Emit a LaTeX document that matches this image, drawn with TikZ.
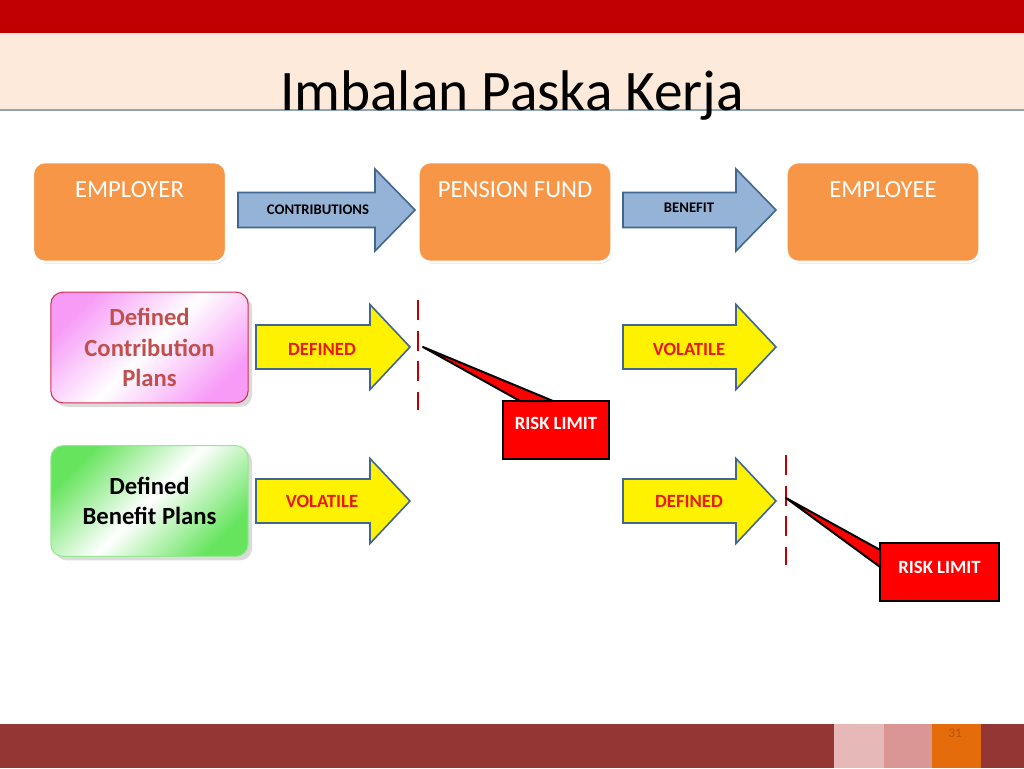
\documentclass[tikz,border=0pt]{standalone}
\usepackage{fontspec}
\setmainfont{Carlito}
\usepackage{xcolor}
\usepackage{tikz}
\usetikzlibrary{calc,positioning,shadows}

\definecolor{barred}{HTML}{C00000}
\definecolor{peach}{HTML}{FDEADA}
\definecolor{rulegrey}{HTML}{8EA5BE}
\definecolor{boxorange}{HTML}{F79646}
\definecolor{arrblue}{HTML}{95B3D7}
\definecolor{arredge}{HTML}{41668F}
\definecolor{dcpink}{HTML}{F79BF7}
\definecolor{dcedge}{HTML}{D0304D}
\definecolor{dctext}{HTML}{C0504D}
\definecolor{dbgreen}{HTML}{66E45E}
\definecolor{dbedge}{HTML}{9BE597}
\definecolor{levred}{HTML}{E41B17}
\definecolor{footred}{HTML}{943634}
\definecolor{footpinkA}{HTML}{E6B9B8}
\definecolor{footpinkB}{HTML}{D99694}
\definecolor{footorange}{HTML}{E46C0A}

\tikzset{
  partybox/.style={rectangle, rounded corners=9pt, fill=boxorange, draw=white,
    line width=2pt, minimum width=145pt, minimum height=75pt,
    drop shadow={shadow xshift=0.8pt, shadow yshift=-1.2pt, opacity=0.35}},
  partytxt/.style={text=white, font=\fontsize{18.5}{22}\selectfont},
  planbox/.style={rectangle, rounded corners=9pt, line width=0.8pt,
    minimum width=148pt, minimum height=83pt, align=center,
    font=\bfseries\fontsize{18.5}{23}\selectfont,
    drop shadow={shadow xshift=3pt, shadow yshift=-3pt, fill=black!14, opacity=1}},
  flowtxt/.style={font=\bfseries\fontsize{11}{13}\selectfont},
  levtxt/.style={text=levred, font=\bfseries\fontsize{14}{16}\selectfont},
  riskbox/.style={rectangle, fill=red, draw=black, line width=1.5pt, outer sep=0pt,
    minimum width=79.5pt, minimum height=43.5pt, text=white,
    font=\bfseries\fontsize{14}{16}\selectfont},
  limitline/.style={draw=barred, line width=2.2pt, dash pattern=on 15pt off 8pt}
}

\begin{document}
\begin{tikzpicture}[x=0.75pt,y=-0.75pt]
  \useasboundingbox (0,0) rectangle (1024,768);
  % header band
  \fill[barred] (0,0) rectangle (1024,33);
  \fill[peach] (0,33) rectangle (1024,110);
  \draw[rulegrey, line width=1.2pt] (0,110) -- (1024,110);
  \node[font=\fontsize{43}{50}\selectfont, anchor=base] (title) at (512,110) {Imbalan Paska Kerja};

  % parties
  \node[partybox] (employer) at (129.5,212) {};
  \node[partybox] (fund) at (515,212) {};
  \node[partybox] (employee) at (883,212) {};
  \foreach \n/\t in {employer/EMPLOYER,fund/PENSION FUND,employee/EMPLOYEE}
    \node[partytxt, anchor=base] (\n-t) at ($(\n.north)+(0,37)$) {\t};

  % block arrows
  \foreach \xa/\xb/\yc/\bw/\hw/\col in {238/415/210/17.5/41/arrblue,623/776/210/17.5/41/arrblue,
      256/410/347/22/42.5/yellow,623/776/347/22/42.5/yellow,
      256/410/501/22/42.5/yellow,623/776/501/22/42.5/yellow}
    \filldraw[fill=\col, draw=arredge, line width=1.2pt, line join=miter]
      (\xa,{\yc-\bw}) -- ({\xb-40},{\yc-\bw}) -- ({\xb-40},{\yc-\hw}) -- (\xb,\yc)
      -- ({\xb-40},{\yc+\hw}) -- ({\xb-40},{\yc+\bw}) -- (\xa,{\yc+\bw}) -- cycle;
  \node[flowtxt] (contrib) at (318,210) {CONTRIBUTIONS};
  \node[flowtxt] (benefit) at (689,208) {BENEFIT};
  \node[levtxt] (dc-in) at (322,349) {DEFINED};
  \node[levtxt] (dc-out) at (689,349) {VOLATILE};
  \node[levtxt] (db-in) at (322,501) {VOLATILE};
  \node[levtxt] (db-out) at (689,501) {DEFINED};

  % plans
  \node[planbox, draw=dcedge, text=dctext, left color=dcpink, right color=dcpink,
    middle color=white, shading angle=45] (dcplan) at (149.5,347.5) {Defined\\Contribution\\Plans};
  \node[planbox, draw=dbedge, left color=dbgreen, right color=dbgreen,
    middle color=white, shading angle=45] (dbplan) at (149.5,501) {Defined\\Benefit Plans};

  % risk limits
  \draw[limitline] (418,300) -- (418,410);
  \draw[limitline] (786,455) -- (786,565);
  \coordinate (tip1) at (423,347);
  \coordinate (tip2) at (786,498);
  \node[riskbox, text depth=10.5pt] (risk1) at (556,430) {RISK LIMIT};
  \node[riskbox, text depth=7.5pt, minimum width=89pt] (risk2) at (939.5,572) {RISK LIMIT};
  \filldraw[fill=red, draw=black, line width=1.5pt, line join=round]
    (tip1) -- ($(risk1.north west)+(17,0)$) -- ($(risk1.north west)+(50,0)$) -- cycle;
  \filldraw[fill=red, draw=black, line width=1.5pt, line join=round]
    (tip2) -- ($(risk2.north west)+(0,7)$) -- ($(risk2.north west)+(0,24)$) -- cycle;

  % footer
  \fill[footred] (0,724) rectangle (1024,768);
  \fill[footpinkA] (834,724) rectangle (884,768);
  \fill[footpinkB] (884,724) rectangle (932,768);
  \fill[footorange] (932,724) rectangle (981,768);
  \node[text=footorange!80!black, font=\fontsize{10}{12}\selectfont] (pageno) at (955,733) {31};
\end{tikzpicture}
\end{document}
